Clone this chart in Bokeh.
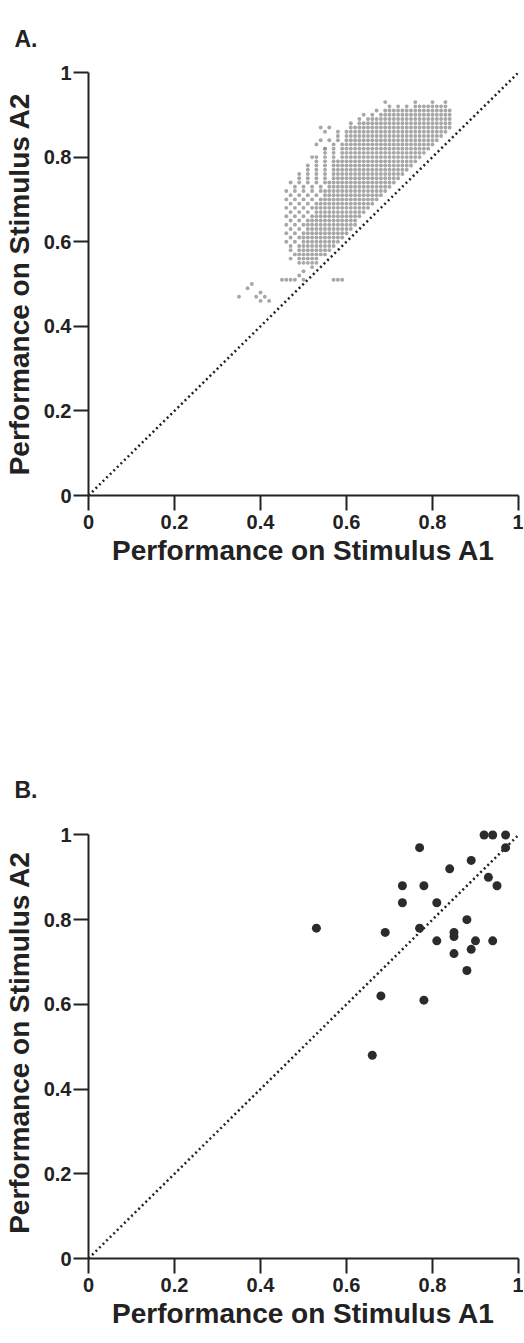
import numpy as np
from bokeh.plotting import figure
from bokeh.layouts import column
from bokeh.models import FixedTicker, Range1d, Title
from bokeh.embed import file_html
from bokeh.resources import INLINE

# ---------------- data ----------------
# Panel A: dense cloud read row by row (y level, left edge, start of dense core, right edge)
cloud_y = [0.92, 0.91, 0.90, 0.89, 0.88, 0.87, 0.86, 0.85, 0.84, 0.83, 0.82, 0.81,
           0.80, 0.79, 0.78, 0.77, 0.76, 0.75, 0.74, 0.73, 0.72, 0.71, 0.70, 0.69,
           0.68, 0.67, 0.66, 0.65, 0.64, 0.63, 0.62, 0.61, 0.60, 0.59, 0.58, 0.57,
           0.56, 0.55]
cloud_left = [0.70, 0.66, 0.64, 0.62, 0.61, 0.60, 0.58, 0.57, 0.56, 0.56, 0.55, 0.54,
              0.53, 0.52, 0.51, 0.50, 0.49, 0.48, 0.47, 0.47, 0.46, 0.46, 0.46, 0.46,
              0.46, 0.46, 0.46, 0.46, 0.46, 0.46, 0.46, 0.46, 0.46, 0.46, 0.47, 0.47,
              0.47, 0.48]
cloud_core = [0.76, 0.70, 0.68, 0.66, 0.64, 0.62, 0.61, 0.60, 0.60, 0.59, 0.59, 0.59,
              0.59, 0.58, 0.58, 0.58, 0.57, 0.57, 0.56, 0.56, 0.55, 0.55, 0.54, 0.54,
              0.53, 0.53, 0.52, 0.52, 0.51, 0.51, 0.50, 0.50, 0.50, 0.50, 0.50, 0.49,
              0.49, 0.50]
cloud_right = [0.83, 0.84, 0.84, 0.84, 0.84, 0.84, 0.83, 0.82, 0.81, 0.80, 0.79, 0.78,
               0.77, 0.76, 0.75, 0.74, 0.73, 0.72, 0.71, 0.70, 0.69, 0.68, 0.67, 0.66,
               0.65, 0.64, 0.63, 0.62, 0.61, 0.60, 0.59, 0.58, 0.57, 0.56, 0.55, 0.54,
               0.53, 0.52]
# Panel A: isolated points outside the cloud
fringe_x = [0.37, 0.38, 0.39, 0.40, 0.41, 0.42, 0.40, 0.35,            # lower-left cluster
            0.45, 0.46, 0.47, 0.48, 0.49, 0.50,                        # streak at 0.51
            0.57, 0.58, 0.59,                                          # small dash below diagonal
            0.50, 0.52, 0.53, 0.55, 0.56, 0.57, 0.58, 0.59, 0.60, 0.61, 0.62,  # near the diagonal
            0.54, 0.55, 0.56, 0.54, 0.53, 0.55, 0.52,                  # sparse upper-left
            0.69, 0.76, 0.80, 0.83]                                    # sparse top
fringe_y = [0.49, 0.50, 0.47, 0.46, 0.47, 0.46, 0.48, 0.47,
            0.51, 0.51, 0.51, 0.51, 0.52, 0.51,
            0.51, 0.51, 0.51,
            0.53, 0.54, 0.55, 0.57, 0.58, 0.59, 0.60, 0.61, 0.62, 0.63, 0.64,
            0.87, 0.86, 0.87, 0.84, 0.83, 0.82, 0.80,
            0.93, 0.93, 0.93, 0.93]

# Panel B: individual subjects
b_x = [0.92, 0.94, 0.97, 0.97, 0.77, 0.89, 0.84, 0.93, 0.95, 0.73, 0.78, 0.73,
       0.81, 0.88, 0.53, 0.69, 0.77, 0.85, 0.85, 0.81, 0.90, 0.94, 0.89, 0.85,
       0.88, 0.68, 0.78, 0.66]
b_y = [1.00, 1.00, 1.00, 0.97, 0.97, 0.94, 0.92, 0.90, 0.88, 0.88, 0.88, 0.84,
       0.84, 0.80, 0.78, 0.77, 0.78, 0.77, 0.76, 0.75, 0.75, 0.75, 0.73, 0.72,
       0.68, 0.62, 0.61, 0.48]

diag_x = [0, 1]
diag_y = [0, 1]

tick_vals = [0, 0.2, 0.4, 0.6, 0.8, 1]
tick_labels = ["0", "0.2", "0.4", "0.6", "0.8", "1"]
x_title = "Performance on Stimulus A1"
y_title = "Performance on Stimulus A2"
panel_labels = ["A.", "B."]

# ---------------- build lattice of cloud points from the rows ----------------
ax, ay = [], []
for i, yv in enumerate(cloud_y):
    l, c, r = cloud_left[i], cloud_core[i], cloud_right[i]
    off = 0.01 if (i % 2) else 0.0
    xs = list(np.arange(l + off, c - 1e-9, 0.02)) + list(np.arange(c, r + 1e-9, 0.01))
    ax += xs
    ay += [yv] * len(xs)
ax += fringe_x
ay += fringe_y

FONT = "Liberation Sans"
INK = "#222222"


def style(p, label, standoff):
    for axis in (p.xaxis, p.yaxis):
        axis.ticker = FixedTicker(ticks=tick_vals)
        axis.major_label_overrides = {v: t for v, t in zip(tick_vals, tick_labels)}
        axis.bounds = (0, 1)
        axis.axis_line_width = 2
        axis.axis_line_color = INK
        axis.major_tick_line_width = 2
        axis.major_tick_line_color = INK
        axis.major_tick_in = 0
        axis.major_tick_out = 15
        axis.minor_tick_line_color = None
        axis.major_label_text_font = FONT
        axis.major_label_text_font_style = "bold"
        axis.major_label_text_font_size = "20px"
        axis.major_label_text_color = INK
        axis.axis_label_text_font = FONT
        axis.axis_label_text_font_style = "bold"
        axis.axis_label_text_font_size = "28px"
        axis.axis_label_text_color = INK
    p.xaxis.axis_label = x_title
    p.yaxis.axis_label = y_title
    p.xaxis.major_label_standoff = 4
    p.yaxis.major_label_standoff = 2
    p.xaxis.axis_label_standoff = 3
    p.yaxis.axis_label_standoff = 6
    p.grid.visible = False
    p.outline_line_color = None
    p.background_fill_color = "white"
    p.border_fill_color = "white"
    p.add_layout(Title(text=label, align="left", offset=-74, standoff=standoff,
                       text_font=FONT, text_font_style="bold", text_font_size="23px",
                       text_color=INK), "above")


# Panel A
pA = figure(frame_width=430, frame_height=423, min_border_left=81, min_border_right=5,
            min_border_top=72, min_border_bottom=237,
            x_range=Range1d(0, 1), y_range=Range1d(0, 1),
            output_backend="svg", toolbar_location=None)
pA.line(diag_x, diag_y, line_dash="2 3", line_width=2.5, line_color=INK)
pA.scatter(ax, ay, size=3.9, fill_color="#8a8a8a", line_color=None, fill_alpha=0.75)
style(pA, panel_labels[0], 41)

# Panel B
pB = figure(frame_width=430, frame_height=432, min_border_left=81, min_border_right=5,
            min_border_top=94, min_border_bottom=69,
            x_range=Range1d(0, 1), y_range=Range1d(0, 1.02),
            output_backend="svg", toolbar_location=None)
pB.line(diag_x, diag_y, line_dash="2 3", line_width=2.5, line_color=INK)
pB.scatter(b_x, b_y, size=9, fill_color="#2b2b2b", line_color=None)
style(pB, panel_labels[1], 47)

layout = column(pA, pB, spacing=0)
open("out.html", "w").write(file_html(layout, INLINE))
